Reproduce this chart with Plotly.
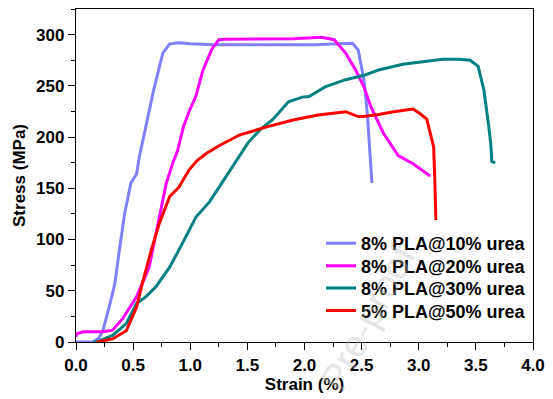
import plotly.graph_objects as go

# ---- data ----
names = ["8% PLA@10% urea", "8% PLA@20% urea", "8% PLA@30% urea", "5% PLA@50% urea"]

blue_x = [0.0, 0.15, 0.20, 0.235, 0.29, 0.34, 0.38, 0.425, 0.48, 0.53, 0.555, 0.60, 0.68, 0.76,
          0.82, 0.90, 1.0, 1.2, 1.5, 1.8, 2.1, 2.3, 2.42, 2.47, 2.52, 2.55, 2.57, 2.59]
blue_y = [0, 0, 4, 11, 34, 57, 90, 125, 155, 164, 181, 205, 246, 282,
          291, 292, 291, 290, 290, 290, 290, 291, 291.5, 285, 256, 223, 190, 155]

magenta_x = [0.0, 0.005, 0.06, 0.235, 0.32, 0.41, 0.53, 0.64, 0.73, 0.79, 0.845, 0.89, 0.94, 0.99,
             1.05, 1.11, 1.19, 1.25, 1.30, 1.60, 1.90, 2.15, 2.26, 2.36, 2.45, 2.52, 2.58, 2.69,
             2.82, 2.95, 3.04, 3.10]
magenta_y = [5, 8, 10, 10, 11.5, 23, 44, 73, 122, 155, 174, 187, 210, 225,
             240, 265, 286, 295, 295.5, 295.5, 296, 297.5, 295, 282, 265, 249, 230, 204,
             182, 174, 167, 162]

teal_x = [0.15, 0.18, 0.32, 0.44, 0.53, 0.61, 0.70, 0.82, 0.93, 1.05, 1.17, 1.29, 1.41, 1.51,
          1.61, 1.72, 1.86, 1.98, 2.04, 2.18, 2.36, 2.53, 2.65, 2.86, 3.05, 3.21, 3.35, 3.45,
          3.52, 3.57, 3.61, 3.63, 3.64, 3.67]
teal_y = [0, 0, 6.5, 18, 37.5, 44, 54, 73, 96, 122, 137, 158, 178, 195,
          207, 217, 234.5, 239, 239.5, 249, 256, 260.6, 265.5, 271, 274, 276, 276, 275,
          269, 246, 213, 194, 176, 175]

red_x = [0.18, 0.32, 0.44, 0.53, 0.58, 0.66, 0.73, 0.82, 0.90, 0.99, 1.06, 1.14, 1.26, 1.43,
         1.67, 1.90, 2.12, 2.36, 2.47, 2.51, 2.65, 2.78, 2.95, 3.01, 3.07, 3.11, 3.13, 3.14, 3.15]
red_y = [0, 3, 11, 34, 57, 90, 116, 142, 151, 168, 177, 184, 192, 202,
         210, 216.6, 221.5, 224.8, 220, 220, 222, 224.8, 227.4, 223, 217.6, 200, 190.6, 160, 119]

colors = ["#8080FF", "#FF00FF", "#008080", "#FF0000"]

x_ticks = [0.0, 0.5, 1.0, 1.5, 2.0, 2.5, 3.0, 3.5, 4.0]
y_ticks = [0, 50, 100, 150, 200, 250, 300]

series = [(blue_x, blue_y), (magenta_x, magenta_y), (teal_x, teal_y), (red_x, red_y)]

FONT = "Liberation Sans, Arial, sans-serif"
W, H = 553, 399
L, R, T, B = 76, 20, 9, 57.3
plot_h = H - T - B

fig = go.Figure()
legend_ids = ["legend", "legend2", "legend3", "legend4"]
for (xs, ys), name, c, lg in zip(series, names, colors, legend_ids):
    fig.add_trace(go.Scatter(x=xs, y=ys, mode="lines", name=name, legend=lg,
                             line=dict(color=c, width=3)))

axis_common = dict(showline=True, linecolor="black", linewidth=1.3, mirror=True,
                   ticks="outside", ticklen=7, tickwidth=1.3, tickcolor="black",
                   showgrid=False, zeroline=False,
                   tickfont=dict(family=FONT, size=17, color="black", weight="bold"))

fig.update_xaxes(range=[0, 4.0], tickvals=x_ticks,
                 ticktext=[f"{v:.1f}" for v in x_ticks],
                 minor=dict(ticks="outside", ticklen=4, tickwidth=1.3, tickcolor="black", dtick=0.25),
                 title=dict(text="Strain (%)", standoff=2,
                            font=dict(family=FONT, size=17, color="black", weight="bold")),
                 **axis_common)
fig.update_yaxes(range=[0, 325], tickvals=y_ticks,
                 minor=dict(ticks="outside", ticklen=4, tickwidth=1.3, tickcolor="black", dtick=25),
                 title=dict(text="Stress (MPa)", standoff=6,
                            font=dict(family=FONT, size=17, color="black", weight="bold")),
                 **axis_common)

# faint watermark
fig.add_annotation(text="Pre-proof", xref="paper", yref="paper",
                   x=(368 - L) / (W - L - R), y=(H - B - 318) / plot_h,
                   xanchor="center", yanchor="middle", showarrow=False,
                   textangle=-62, font=dict(family=FONT, size=38, color="rgba(190,190,190,0.4)"))

# one legend per entry so rows can sit as close as in the reference
row_centers = [243.3, 265.7, 288.1, 310.5]
legend_cfg = {}
for lg, yc in zip(legend_ids, row_centers):
    legend_cfg[lg] = dict(x=(363 - 40 - 2 - L) / (W - L - R), y=(H - B - yc) / plot_h,
                          xanchor="left", yanchor="middle",
                          bgcolor="rgba(0,0,0,0)", borderwidth=0,
                          font=dict(family=FONT, size=18, color="black", weight="bold"))

fig.update_layout(
    width=W, height=H,
    margin=dict(l=L, r=R, t=T, b=B),
    paper_bgcolor="white", plot_bgcolor="white",
    showlegend=True,
    **legend_cfg,
)

fig.write_html("out.html", config={"displayModeBar": False},
               post_script="document.body.style.margin='0px';")
